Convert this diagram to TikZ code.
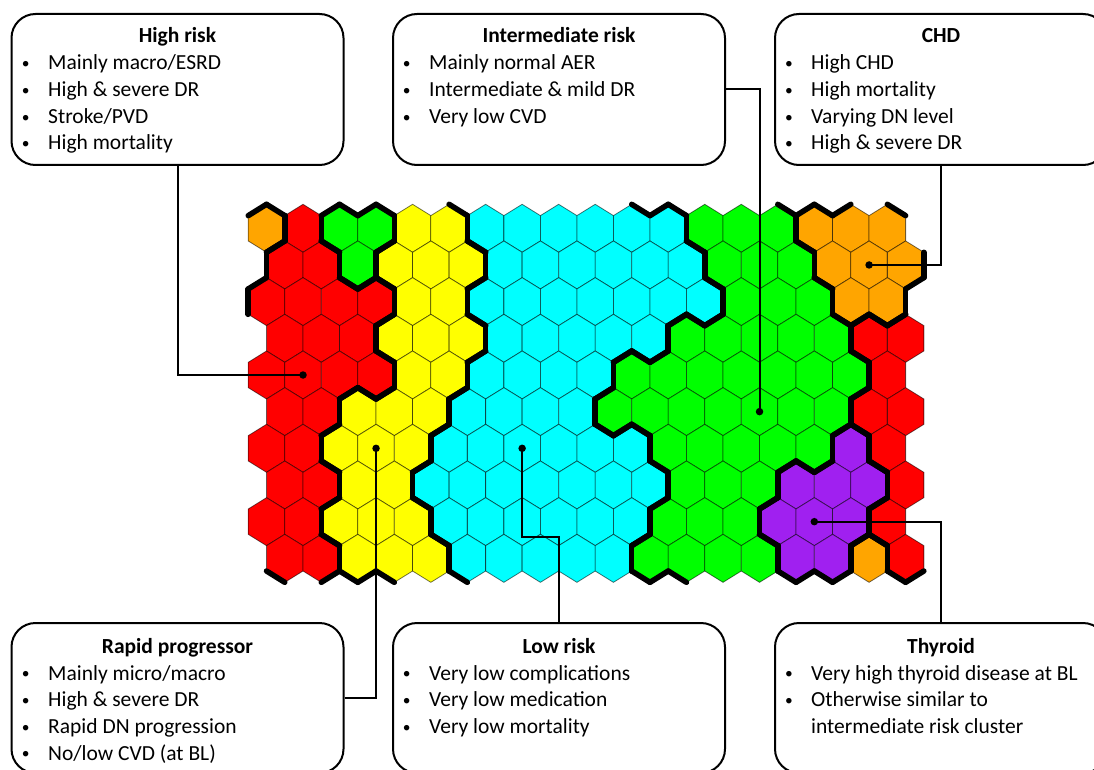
\documentclass[tikz,border=0pt]{standalone}
\usepackage{fontspec}
\setmainfont{Carlito}
\definecolor{c0}{HTML}{FFA500}
\definecolor{c1}{HTML}{FF0000}
\definecolor{c2}{HTML}{00FF00}
\definecolor{c3}{HTML}{FFFF00}
\definecolor{c4}{HTML}{00FFFF}
\definecolor{c5}{HTML}{A020F0}
\newcommand\setrow[2]{\foreach \vv [count=\hc from 0] in {#2}{\expandafter\xdef\csname cl\number#1x\hc\endcsname{\vv}}}
\newcommand\mybul{\llap{\raisebox{1.2pt}{\scalebox{0.72}{\textbullet}}\hspace{18.5pt}}}
\begin{document}
\begin{tikzpicture}[x=1pt,y=-1pt,
  box/.style={draw=black, line width=2pt, rounded corners=24pt, minimum width=332pt, minimum height=151pt, inner sep=0pt, fill=white},
  ttl/.style={font=\fontsize{21.5}{26.7}\selectfont\bfseries, anchor=base, inner sep=0pt},
  itm/.style={font=\fontsize{21.5}{26.7}\selectfont, anchor=base west, inner sep=0pt},
  conn/.style={draw=black, line width=2pt},
  dot/.style={circle, fill=black, inner sep=0pt, minimum size=7.5pt},
  hexedge/.style={draw=black, draw opacity=0.55, line width=0.8pt},
  clb/.style={draw=black, line width=5.5pt, line cap=round}]
\useasboundingbox (0,0) rectangle (1094,770);
\clip (0,0) rectangle (1094,770);
% cluster map: 0 orange, 1 red, 2 green, 3 yellow, 4 cyan, 5 purple
\setrow{0}{0,1,2,2,3,3,4,4,4,4,4,4,2,2,2,0,0,0}
\setrow{1}{1,1,2,3,3,3,4,4,4,4,4,4,2,2,2,0,0,0}
\setrow{2}{1,1,1,1,3,3,4,4,4,4,4,4,4,2,2,2,0,0}
\setrow{3}{1,1,1,3,3,3,4,4,4,4,4,2,2,2,2,2,1,1}
\setrow{4}{1,1,1,1,3,3,4,4,4,4,2,2,2,2,2,2,2,1}
\setrow{5}{1,1,3,3,3,4,4,4,4,2,2,2,2,2,2,2,1,1}
\setrow{6}{1,1,3,3,3,4,4,4,4,4,4,2,2,2,2,2,5,1}
\setrow{7}{1,1,3,3,4,4,4,4,4,4,4,2,2,2,5,5,5,1}
\setrow{8}{1,1,3,3,3,4,4,4,4,4,4,2,2,2,5,5,5,1}
\setrow{9}{1,1,3,3,3,4,4,4,4,4,2,2,2,2,5,5,0,1}
\def\xo{266.5}\def\yo{228.3}\def\w{36.52}\def\wh{18.26}\def\h{36.67}\def\ha{24}\def\hb{12.67}
% hex fills
\foreach \ri in {0,...,9}{
  \foreach \ci in {0,...,17}{
    \pgfmathsetmacro\X{\xo+\ci*\w+mod(\ri,2)*\wh}
    \pgfmathsetmacro\Y{\yo+\ri*\h}
    \edef\me{\csname cl\ri x\ci\endcsname}
    \filldraw[fill=c\me, hexedge] ({\X},{\Y-\ha}) -- ({\X+\wh},{\Y-\hb}) -- ({\X+\wh},{\Y+\hb}) -- ({\X},{\Y+\ha}) -- ({\X-\wh},{\Y+\hb}) -- ({\X-\wh},{\Y-\hb}) -- cycle;
  }
}
% cluster borders (toroidal neighbourhood)
\foreach \ri in {0,...,9}{
  \foreach \ci in {0,...,17}{
    \pgfmathsetmacro\X{\xo+\ci*\w+mod(\ri,2)*\wh}
    \pgfmathsetmacro\Y{\yo+\ri*\h}
    \pgfmathtruncatemacro\hxRp{mod(\ri+9,10)}
    \pgfmathtruncatemacro\hxRn{mod(\ri+1,10)}
    \pgfmathtruncatemacro\hxP{mod(\ci+17,18)}
    \pgfmathtruncatemacro\hxN{mod(\ci+1,18)}
    \pgfmathtruncatemacro\hxOdd{mod(\ri,2)}
    \ifnum\hxOdd=0 \edef\hxL{\hxP}\edef\hxR{\ci}\else\edef\hxL{\ci}\edef\hxR{\hxN}\fi
    \edef\me{\csname cl\ri x\ci\endcsname}
    \edef\nR{\csname cl\ri x\hxN\endcsname}
    \edef\nL{\csname cl\ri x\hxP\endcsname}
    \edef\nUL{\csname cl\hxRp x\hxL\endcsname}
    \edef\nUR{\csname cl\hxRp x\hxR\endcsname}
    \edef\nLL{\csname cl\hxRn x\hxL\endcsname}
    \edef\nLR{\csname cl\hxRn x\hxR\endcsname}
    \ifnum\me=\nR\else\draw[clb] ({\X+\wh},{\Y-\hb}) -- ({\X+\wh},{\Y+\hb});\fi
    \ifnum\me=\nL\else\draw[clb] ({\X-\wh},{\Y-\hb}) -- ({\X-\wh},{\Y+\hb});\fi
    \ifnum\me=\nUR\else\draw[clb] ({\X},{\Y-\ha}) -- ({\X+\wh},{\Y-\hb});\fi
    \ifnum\me=\nUL\else\draw[clb] ({\X-\wh},{\Y-\hb}) -- ({\X},{\Y-\ha});\fi
    \ifnum\me=\nLR\else\draw[clb] ({\X+\wh},{\Y+\hb}) -- ({\X},{\Y+\ha});\fi
    \ifnum\me=\nLL\else\draw[clb] ({\X},{\Y+\ha}) -- ({\X-\wh},{\Y+\hb});\fi
  }
}
% boxes
\node[box] (hr) at (177.5,89.5) {};
\node[box] (ir) at (559,89.5) {};
\node[box] (chd) at (941,89.5) {};
\node[box, minimum height=150pt] (rp) at (177.5,698) {};
\node[box, minimum height=150pt] (lr) at (559,698) {};
\node[box, minimum height=150pt] (th) at (941,698) {};
% texts
\node[ttl] (hrt) at (177.5,43) {High risk};
\node[itm] (hr1) at (48,70) {\mybul Mainly macro/ESRD};
\node[itm] (hr2) at (48,96.7) {\mybul High \& severe DR};
\node[itm] (hr3) at (48,123.3) {\mybul Stroke/PVD};
\node[itm] (hr4) at (48,150) {\mybul High mortality};
\node[ttl] (irt) at (559,43) {Intermediate risk};
\node[itm] (ir1) at (429,70) {\mybul Mainly normal AER};
\node[itm] (ir2) at (429,96.7) {\mybul Intermediate \& mild DR};
\node[itm] (ir3) at (429,123.3) {\mybul Very low CVD};
\node[ttl] (chdt) at (941,43) {CHD};
\node[itm] (chd1) at (811,70) {\mybul High CHD};
\node[itm] (chd2) at (811,96.7) {\mybul High mortality};
\node[itm] (chd3) at (811,123.3) {\mybul Varying DN level};
\node[itm] (chd4) at (811,150) {\mybul High \& severe DR};
\node[ttl] (rpt) at (177.5,653.3) {Rapid progressor};
\node[itm] (rp1) at (48,680) {\mybul Mainly micro/macro};
\node[itm] (rp2) at (48,706.7) {\mybul High \& severe DR};
\node[itm] (rp3) at (48,733.3) {\mybul Rapid DN progression};
\node[itm] (rp4) at (48,760) {\mybul No/low CVD (at BL)};
\node[ttl] (lrt) at (559,653.3) {Low risk};
\node[itm] (lr1) at (429,680) {\mybul Very low complications};
\node[itm] (lr2) at (429,706.7) {\mybul Very low medication};
\node[itm] (lr3) at (429,733.3) {\mybul Very low mortality};
\node[ttl] (tht) at (941,653.3) {Thyroid};
\node[itm] (th1) at (811,680) {\mybul Very high thyroid disease at BL};
\node[itm] (th2) at (811,706.7) {\mybul Otherwise similar to};
\node[itm] (th3) at (811,733.3) {intermediate risk cluster};
% dots
\node[dot] (dhr) at (303.02,375.0) {};
\node[dot] (dir) at (759.52,411.65) {};
\node[dot] (dchd) at (869.08,264.97) {};
\node[dot] (drp) at (376.06,448.32) {};
\node[dot] (dlr) at (522.14,448.32) {};
\node[dot] (dth) at (814.3,521.66) {};
\coordinate (lk) at (559,537);
% connectors
\draw[conn] (hr.south) |- (dhr.center);
\draw[conn] (ir.east) -| (dir.center);
\draw[conn] (chd.south) |- (dchd.center);
\draw[conn] (rp.east) -| (drp.center);
\draw[conn] (lr.north) -- (lk) -| (dlr.center);
\draw[conn] (th.north) |- (dth.center);
\end{tikzpicture}
\end{document}
